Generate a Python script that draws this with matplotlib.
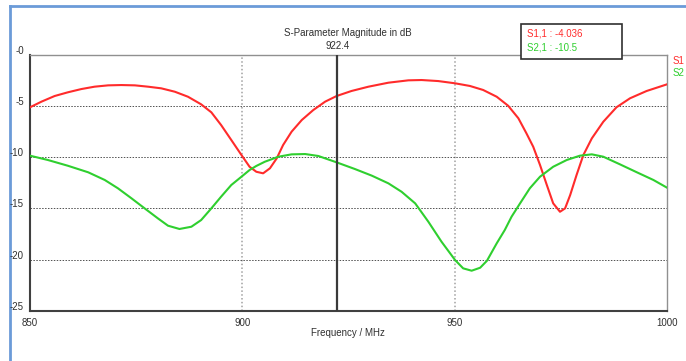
import matplotlib
matplotlib.use("Agg")
import matplotlib.pyplot as plt
from matplotlib.patches import Rectangle
from matplotlib.lines import Line2D

# --- data ---
s11_freq = [850.0, 852.7, 855.8, 858.9, 862.1, 865.2, 868.4, 871.5, 874.7, 877.8,
            880.9, 884.1, 887.2, 890.3, 892.7, 895.0, 897.4, 899.8, 901.7, 903.3,
            904.9, 906.5, 908.1, 909.6, 911.6, 914.0, 916.7, 919.5, 922.2, 925.7,
            929.7, 934.4, 939.1, 942.2, 946.1, 950.1, 953.6, 956.7, 959.9, 962.6,
            965.0, 966.9, 968.5, 970.1, 971.7, 973.2, 974.8, 976.0, 977.2, 978.7,
            980.3, 982.3, 985.0, 988.1, 991.3, 995.2, 1000.0]
s11_db = [-5.13, -4.58, -4.03, -3.67, -3.35, -3.12, -2.99, -2.96, -2.99, -3.12,
          -3.28, -3.61, -4.10, -4.84, -5.62, -6.86, -8.32, -9.79, -10.93, -11.42,
          -11.57, -11.08, -10.11, -8.81, -7.51, -6.37, -5.40, -4.58, -4.03, -3.54,
          -3.12, -2.73, -2.50, -2.47, -2.57, -2.79, -3.05, -3.44, -4.10, -4.98,
          -6.20, -7.67, -8.98, -10.76, -12.71, -14.50, -15.32, -14.99, -13.69, -11.74,
          -9.79, -8.16, -6.54, -5.13, -4.25, -3.54, -2.89]

s21_freq = [850.0, 854.2, 858.9, 863.7, 867.6, 870.7, 873.9, 877.0, 880.1, 882.5,
            885.2, 888.0, 890.3, 892.7, 895.0, 897.4, 899.8, 901.7, 903.3, 905.3,
            908.5, 911.6, 914.8, 917.9, 922.2, 926.5, 930.5, 934.4, 937.5, 940.7,
            943.8, 946.9, 950.1, 952.0, 954.0, 956.0, 957.6, 959.9, 961.8, 963.4,
            965.4, 967.7, 970.1, 973.2, 976.4, 979.5, 982.3, 985.0, 988.9, 992.9,
            996.8, 1000.0]
s21_db = [-9.85, -10.27, -10.83, -11.47, -12.22, -13.03, -14.01, -14.99, -15.96, -16.68,
          -17.00, -16.78, -16.13, -14.99, -13.85, -12.71, -11.90, -11.25, -10.85, -10.44,
          -9.95, -9.72, -9.69, -9.88, -10.50, -11.15, -11.80, -12.55, -13.37, -14.50,
          -16.29, -18.24, -20.03, -20.84, -21.07, -20.78, -20.10, -18.40, -17.10, -15.80,
          -14.50, -13.03, -11.90, -10.93, -10.27, -9.85, -9.72, -9.95, -10.69, -11.47,
          -12.22, -12.97]

cursor_freq = 922.4
cursor_labels = ["S1,1 : -4.036", "S2,1 : -10.5"]
trace_names = ["S1", "S2"]
yticks = [0, -5, -10, -15, -20, -25]
ytick_labels = ["-0", "-5", "-10", "-15", "-20", "-25"]
xticks = [850, 900, 950, 1000]

RED = "#ff2b2b"
GREEN = "#2fcf2f"
FONT = ["Liberation Sans", "DejaVu Sans"]
FS = 7
TXT = "#303030"

W, H = 686, 361
fig = plt.figure(figsize=(W / 100, H / 100), dpi=100)
fig.patch.set_facecolor("white")

x0, x1, ytop, ybot = 30, 667, 54.7, 311
ax = fig.add_axes([x0 / W, 1 - ybot / H, (x1 - x0) / W, (ybot - ytop) / H])
ax.set_xlim(850, 1000)
ax.set_ylim(-25, 0)

# grid
for f in [900, 950]:
    ax.axvline(f, color="#a0a0a0", lw=1.1, ls=(0, (1, 1.5)), zorder=1)
for v in [-5, -10, -15, -20]:
    ax.axhline(v, color="#505050", lw=0.7, ls=(0, (1.5, 1.5)), zorder=1)

ax.plot(s11_freq, s11_db, color=RED, lw=1.5, zorder=3, solid_joinstyle="round")
ax.plot(s21_freq, s21_db, color=GREEN, lw=1.5, zorder=3, solid_joinstyle="round")
ax.axvline(cursor_freq, color="#3a3a3a", lw=1.6, zorder=4)

# spines
for side in ["top", "right"]:
    ax.spines[side].set_color("#909090")
    ax.spines[side].set_linewidth(1.0)
for side in ["left", "bottom"]:
    ax.spines[side].set_color("#404040")
    ax.spines[side].set_linewidth(1.5)

ax.set_xticks([])
ax.set_yticks([])

# window frame (blue border), drawn first so text stays on top
fig.add_artist(Line2D([9.5 / W, 9.5 / W], [0, 1 - 5.5 / H], transform=fig.transFigure,
                      color="#6b9bd8", lw=2, zorder=0))
fig.add_artist(Line2D([9.5 / W, 1], [1 - 5.5 / H, 1 - 5.5 / H], transform=fig.transFigure,
                      color="#6b9bd8", lw=2, zorder=0))

# tick labels as text
for v, lab in zip(yticks, ytick_labels):
    ax.annotate(lab, xy=(850, v), xytext=(-4.5, 3), textcoords="offset points",
                ha="right", va="center", fontsize=FS, family=FONT, color=TXT,
                annotation_clip=False)
for f in xticks:
    ax.annotate(str(f), xy=(f, -25), xytext=(0, -8.5), textcoords="offset points",
                ha="center", va="center", fontsize=FS, family=FONT, color=TXT,
                annotation_clip=False)

fig.text(348 / W, 1 - 333 / H, "Frequency / MHz", ha="center", va="center",
         fontsize=FS, family=FONT, color=TXT)
fig.text(348 / W, 1 - 33 / H, "S-Parameter Magnitude in dB", ha="center", va="center",
         fontsize=FS, family=FONT, color=TXT)
ax.annotate(f"{cursor_freq}", xy=(cursor_freq, 0), xytext=(0, 6), textcoords="offset points",
            ha="center", va="center", fontsize=FS, family=FONT, color=TXT,
            annotation_clip=False)

# cursor readout box
fig.add_artist(Rectangle((521 / W, 1 - 59 / H), 101 / W, 35 / H, transform=fig.transFigure,
                         facecolor="white", edgecolor="#303030", lw=1.2, zorder=5))
for i, (lab, c) in enumerate(zip(cursor_labels, [RED, GREEN])):
    fig.text(527 / W, 1 - (33 + 15 * i) / H, lab, ha="left", va="center",
             fontsize=FS, family=FONT, color=c, zorder=6)

# trace names at right edge
for i, (lab, c) in enumerate(zip(trace_names, [RED, GREEN])):
    fig.text(673 / W, 1 - (61 + 12 * i) / H, lab, ha="left", va="center",
             fontsize=FS, family=FONT, color=c)

fig.savefig("out.png", dpi=100)
